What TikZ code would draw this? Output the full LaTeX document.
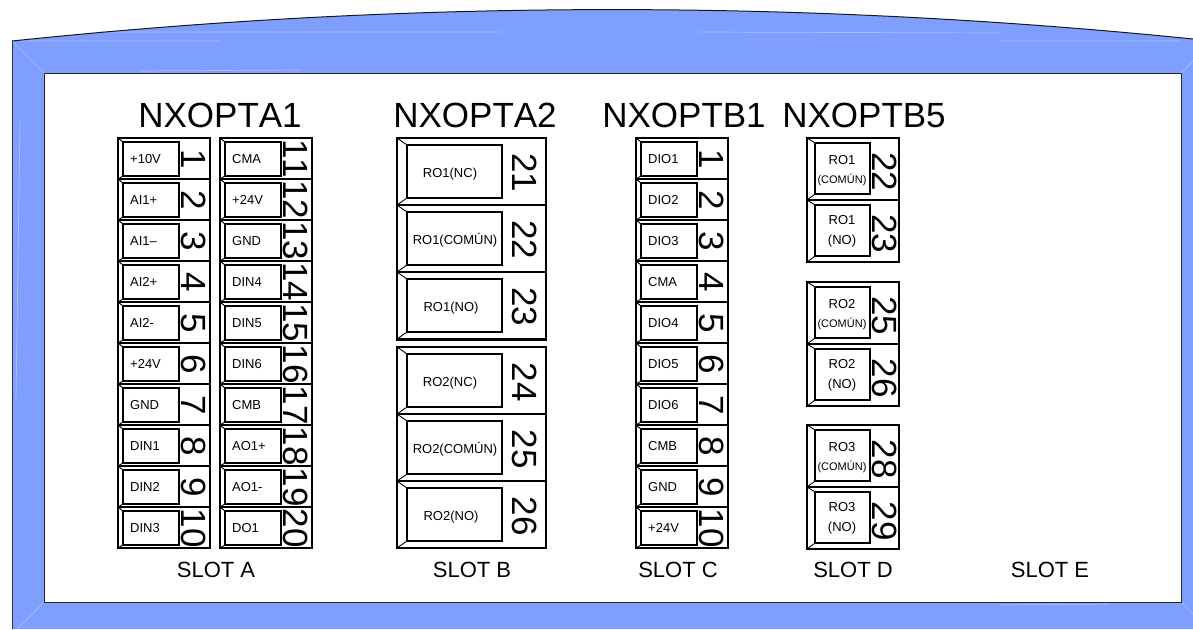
\documentclass[tikz,border=0pt]{standalone}
\usepackage{fontspec}
\setmainfont[Kerning=Off]{Liberation Sans}
\usepackage{xcolor}
\usepackage{tikz}
\definecolor{framefill}{HTML}{7F9FFF}
\definecolor{framelite}{HTML}{A9C0FF}
\tikzset{
	title/.style={font=\fontsize{35}{35}\selectfont,inner sep=0pt},
	slot/.style={font=\fontsize{22}{22}\selectfont,inner sep=0pt},
	pin/.style={font=\fontsize{35}{35}\selectfont,rotate=-90,anchor=base,inner sep=0pt},
	tag/.style={font=\fontsize{13}{13}\selectfont,inner sep=0pt,text height=9pt,text depth=2pt},
	tagsmall/.style={font=\fontsize{11}{11}\selectfont,inner sep=0pt,text height=7pt,text depth=2pt},
	cellline/.style={line width=1.6pt},
	boxline/.style={line width=1.6pt,fill=white},
	bevel/.style={line width=0.9pt}
}
% one terminal: name, left, top, right, bottom, box left, box right, top inset, bottom inset
\newcommand{\termcell}[9]{
	\draw[bevel] (#2,#3)--(#6,#3+#8) (#2,#5)--(#6,#5-#9);
	\draw[boxline] (#6,#3+#8) rectangle (#7,#5-#9) coordinate (#1);
}
\begin{document}
\begin{tikzpicture}[x=1pt,y=-1pt]
		\useasboundingbox (0,0) rectangle (1193,629);
		% case
		\fill[framefill] (12,629)--(12,41) .. controls (404,0) and (798,-1) .. (1193,39)--(1193,629)--cycle;
		\draw[framelite,line width=0.5pt] (12,41)--(44,73) (1181,73)--(1193,61) (1181,602)--(1193,614) (44,602)--(17,629);
		\draw[framelite,line width=0.7pt] (20,41)--(220,41) (100,32)--(500,32) (700,32)--(1000,33) (1000,41)--(1180,41) (140,71)--(300,70) (20,120)--(16,400) (1000,605)--(1110,604);
		\draw[black!80,line width=0.9pt] (12,629)--(12,41);
		\draw[black!90,line width=1pt] (12,41) .. controls (404,0) and (798,-1) .. (1193,39);
		\draw[draw=black!85,fill=white,line width=1pt] (44,73) rectangle (1181,602);
		% titles
		\node[title] (ta1) at (220,115) {NXOPTA1};
		\node[title] (ta2) at (475,115) {NXOPTA2};
		\node[title] (tb1) at (684,115) {NXOPTB1};
		\node[title] (tb5) at (864,115) {NXOPTB5};
		\node[slot] (sa) at (216,570) {SLOT A};
		\node[slot] (sb) at (472,570) {SLOT B};
		\node[slot] (sc) at (678,570) {SLOT C};
		\node[slot] (sd) at (853,570) {SLOT D};
		\node[slot] (se) at (1050,570) {SLOT E};
		% slot A, left row
		\draw[cellline] (118,138) rectangle (210,548);
		\foreach \n/\t [count=\i from 0] in {1/{+10V},2/{AI1+},3/{AI1--},4/{AI2+},5/{AI2-},6/{+24V},7/{GND},8/{DIN1},9/{DIN2},10/{DIN3}}{
			\pgfmathsetmacro{\yt}{138+41*\i}
			\pgfmathsetmacro{\yb}{\yt+41}
			\draw[cellline] (118,\yb)--(210,\yb);
			\termcell{a\n}{118}{\yt}{210}{\yb}{123}{179}{4}{3}
			\node[tag,anchor=west] (la\n) at (130,\yt+22) {\t};
			\node[pin] (pa\n) at (181,\yt+21) {\n};
		}
		% slot A, right row
		\draw[cellline] (220,138) rectangle (312,548);
		\foreach \n/\t [count=\i from 0] in {11/{CMA},12/{+24V},13/{GND},14/{DIN4},15/{DIN5},16/{DIN6},17/{CMB},18/{AO1+},19/{AO1-},20/{DO1}}{
			\pgfmathsetmacro{\yt}{138+41*\i}
			\pgfmathsetmacro{\yb}{\yt+41}
			\draw[cellline] (220,\yb)--(312,\yb);
			\termcell{a\n}{220}{\yt}{312}{\yb}{225}{281}{4}{3}
			\node[tag,anchor=west] (la\n) at (232,\yt+22) {\t};
			\node[pin] (pa\n) at (283,\yt+21) {\n};
		}
		% slot B
		\draw[cellline] (397,138) rectangle (546,340);
		\draw[cellline] (397,347) rectangle (546,548);
		\foreach \n/\t/\yt/\xt in {21/{RO1(NC)}/138/450,22/{RO1(COMÚN)}/205/455,23/{RO1(NO)}/272/451,24/{RO2(NC)}/347/450,25/{RO2(COMÚN)}/414/455,26/{RO2(NO)}/481/451}{
			\pgfmathsetmacro{\yb}{\yt+67}
			\draw[cellline] (397,\yb)--(546,\yb);
			\termcell{b\n}{397}{\yt}{546}{\yb}{407}{502}{7}{7}
			\node[tag] (lb\n) at (\xt,\yt+36) {\t};
			\node[pin] (pb\n) at (512,\yt+35) {\n};
		}
		% slot C
		\draw[cellline] (636,138) rectangle (728,548);
		\foreach \n/\t [count=\i from 0] in {1/{DIO1},2/{DIO2},3/{DIO3},4/{CMA},5/{DIO4},6/{DIO5},7/{DIO6},8/{CMB},9/{GND},10/{+24V}}{
			\pgfmathsetmacro{\yt}{138+41*\i}
			\pgfmathsetmacro{\yb}{\yt+41}
			\draw[cellline] (636,\yb)--(728,\yb);
			\termcell{c\n}{636}{\yt}{728}{\yb}{641}{697}{4}{3}
			\node[tag,anchor=west] (lc\n) at (648,\yt+22) {\t};
			\node[pin] (pc\n) at (699,\yt+21) {\n};
		}
		% slot D
		\foreach \ra/\na/\nb/\yt in {1/22/23/138,2/25/26/282,3/28/29/425}{
			\pgfmathsetmacro{\ym}{\yt+62}
			\pgfmathsetmacro{\yb}{\yt+124}
			\draw[cellline] (807,\yt) rectangle (899,\yb);
			\draw[cellline] (807,\ym)--(899,\ym);
			\termcell{d\na}{807}{\yt}{899}{\ym}{815}{870}{5}{6}
			\termcell{d\nb}{807}{\ym}{899}{\yb}{815}{870}{5}{6}
			\node[tag] (lda\ra) at (842,\yt+23) {RO\ra};
			\node[tagsmall] (ldb\ra) at (842,\yt+43) {(COMÚN)};
			\node[tag] (ldc\ra) at (842,\ym+21) {RO\ra};
			\node[tag] (ldd\ra) at (842,\ym+41) {(NO)};
			\node[pin] (pd\na) at (872,\yt+34) {\na};
			\node[pin] (pd\nb) at (872,\ym+34) {\nb};
		}
	\end{tikzpicture}
\end{document}
